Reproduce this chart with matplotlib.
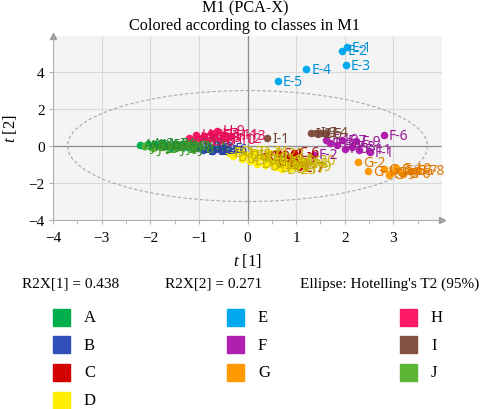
"PCA score plot (M1, PCA-X) coloured by class."

import matplotlib
matplotlib.use("Agg")
from matplotlib import pyplot as plt
from matplotlib.patches import Ellipse, Rectangle

plt.rcParams["font.family"] = ["Liberation Serif", "DejaVu Serif"]
plt.rcParams["mathtext.fontset"] = "custom"
plt.rcParams["mathtext.it"] = "Liberation Serif:italic"
plt.rcParams["mathtext.rm"] = "Liberation Serif"

# ---------------------------------------------------------------------------
# Data (scores)
# ---------------------------------------------------------------------------
classes = ["A", "B", "C", "D", "E", "F", "G", "H", "I", "J"]
colors = ["#00b04f", "#3050b8", "#d40000", "#ffee00", "#00a8f0",
          "#b020b0", "#ff9900", "#ff1a66", "#845040", "#5cb535"]
label_colors = ["#238b32", "#2a3f9a", "#b00000", "#c8b400", "#0090d8",
                "#9a1a9a", "#e07800", "#e0105a", "#6e4030", "#3f9a28"]

A_x = [-2.22, -2.12, -2.05, -1.98, -1.90, -1.82, -1.75, -1.66, -1.58, -1.50, -1.42, -1.33, -1.25, -1.16, -1.08]
A_y = [0.08, 0.02, 0.12, -0.05, 0.10, -0.02, 0.15, 0.04, -0.08, 0.10, 0.00, 0.12, -0.06, 0.05, -0.02]
B_x = [-1.02, -0.92, -0.82, -0.72, -0.62, -0.52]
B_y = [-0.12, -0.22, -0.08, -0.25, -0.15, -0.20]
C_x = [0.62, 0.35, 0.50, 0.75, 0.85, 0.95, 1.05]
C_y = [-0.40, -0.55, -0.85, -1.00, -0.65, -0.35, -1.15]
D_x = [-0.38, -0.30, -0.22, -0.12, -0.05, 0.05, 0.12, 0.20, 0.28, 0.35, 0.42, 0.50,
       0.58, 0.65, 0.72, 0.80, 0.88, 0.95, 1.02, 1.10, 0.15, 0.45, 0.70]
D_y = [-0.35, -0.55, -0.28, -0.70, -0.45, -0.80, -0.50, -0.95, -0.62, -1.05, -0.75, -0.90,
       -1.15, -0.68, -1.00, -0.85, -1.20, -0.95, -1.10, -0.80, -0.30, -0.40, -1.25]
E_x = [2.05, 1.95, 2.03, 1.21, 0.62]
E_y = [5.35, 5.14, 4.38, 4.16, 3.51]
F_x = [2.51, 1.36, 1.70, 1.85, 2.00, 2.81, 1.95, 2.15, 2.24, 1.62, 2.30]
F_y = [-0.33, -0.46, 0.15, 0.05, -0.15, 0.58, 0.30, -0.05, 0.26, 0.35, -0.20]
G_x = [2.48, 2.28, 2.80, 2.95, 3.10, 3.20, 3.35, 3.50, 2.90, 3.05]
G_y = [-1.37, -0.87, -1.25, -1.45, -1.30, -1.50, -1.35, -1.30, -1.55, -1.20]
H_x = [-1.20, -1.12, -1.05, -0.98, -0.90, -0.84, -0.76, -0.70, -0.62, -0.55, -0.48, -0.42, -0.35]
H_y = [0.45, 0.30, 0.62, 0.40, 0.55, 0.25, 0.70, 0.48, 0.82, 0.35, 0.60, 0.42, 0.55]
I_x = [0.41, 1.30, 1.40, 1.62, 1.50]
I_y = [0.43, 0.70, 0.72, 0.72, 0.68]
J_x = [-2.10, -1.95, -1.78, -1.62, -1.48, -1.36, -1.22, -1.12]
J_y = [-0.02, -0.10, -0.04, 0.02, -0.12, -0.06, 0.00, -0.14]

scores_x = [A_x, B_x, C_x, D_x, E_x, F_x, G_x, H_x, I_x, J_x]
scores_y = [A_y, B_y, C_y, D_y, E_y, F_y, G_y, H_y, I_y, J_y]

# Hotelling's T2 (95%) ellipse semi-axes
t2_a = 3.7
t2_b = 3.0

r2x = [0.438, 0.271]

# ---------------------------------------------------------------------------
# Figure
# ---------------------------------------------------------------------------
W, H = 485, 410
fig = plt.figure(figsize=(W / 100, H / 100), dpi=100)
ax = fig.add_axes([53 / W, (H - 221) / H, 389 / W, 184 / H])
ax.set_facecolor("#f4f4f4")

ax.set_xlim(-4, 4)
ax.set_ylim(-4, 5.95)
ax.set_xticks(range(-4, 4))
ax.set_yticks([-4, -2, 0, 2, 4])
ax.set_xticks([i / 2 for i in range(-7, 8, 2)], minor=True)
ax.grid(True, color="#d9d9d9", lw=0.8)
ax.set_axisbelow(True)
ax.axhline(0, color="#8c8c8c", lw=0.9, zorder=1)
ax.axvline(0, color="#8c8c8c", lw=0.9, zorder=1)

for side in ["top", "right"]:
    ax.spines[side].set_visible(False)
for side in ["left", "bottom"]:
    ax.spines[side].set_color("#b0b0b0")
ax.tick_params(colors="#b0b0b0", labelcolor="black", labelsize=11, length=3, pad=5)
ax.tick_params(which="minor", colors="#b0b0b0", length=3)
ax.tick_params(axis="y", which="both", length=3, pad=3)
ax.plot([1], [0], ">", color="#999999", ms=4, transform=ax.transAxes, clip_on=False)
ax.plot([0], [1], "^", color="#999999", ms=4, transform=ax.transAxes, clip_on=False)

ax.add_patch(Ellipse((0, 0), 2 * t2_a, 2 * t2_b, fill=False, ls=(0, (3, 2)),
                     ec="#a8a8a8", lw=0.8, zorder=2))

for cls, xs, ys, col, lcol in zip(classes, scores_x, scores_y, colors, label_colors):
    ax.scatter(xs, ys, s=30, color=col, zorder=3, linewidths=0)
    for i, (x, y) in enumerate(zip(xs, ys)):
        ax.annotate(f"{cls}-{i + 1}", (x, y), xytext=(3.5, 0), textcoords="offset points",
                    va="center", ha="left", fontsize=10, color=lcol,
                    family=["Noto Sans", "DejaVu Sans"], zorder=4)

# axis titles placed in figure pixels
fig.text(247 / W, 1 - 261 / H, "$t$ [1]", ha="center", va="center", fontsize=12)
fig.text(10 / W, 1 - 129 / H, "$t$ [2]", ha="center", va="center", fontsize=12, rotation=90)

fig.text(0.505, 1 - 8 / H, "M1 (PCA-X)", ha="center", va="center", fontsize=11.7)
fig.text(0.505, 1 - 26 / H, "Colored according to classes in M1", ha="center", va="center", fontsize=11.7)

fig.text(22 / W, 1 - 284 / H, f"R2X[1] = {r2x[0]}", va="center", fontsize=11)
fig.text(165 / W, 1 - 284 / H, f"R2X[2] = {r2x[1]}", va="center", fontsize=11)
fig.text(300 / W, 1 - 284 / H, "Ellipse: Hotelling's T2 (95%)", va="center", fontsize=11)

# Legend, laid out in three columns (4, 3, 3)
col_x = [53, 227, 400]
for i, (cls, col) in enumerate(zip(classes, colors)):
    if i < 4:
        c, r = 0, i
    else:
        c, r = 1 + (i - 4) // 3, (i - 4) % 3
    yc = 318 + 27.7 * r
    fig.add_artist(Rectangle((col_x[c] / W, (H - yc - 8.5) / H), 17 / W, 17 / H,
                             transform=fig.transFigure, color=col))
    fig.text((col_x[c] + 31) / W, 1 - yc / H, cls, va="center", fontsize=12)

fig.savefig("out.png", dpi=100)
